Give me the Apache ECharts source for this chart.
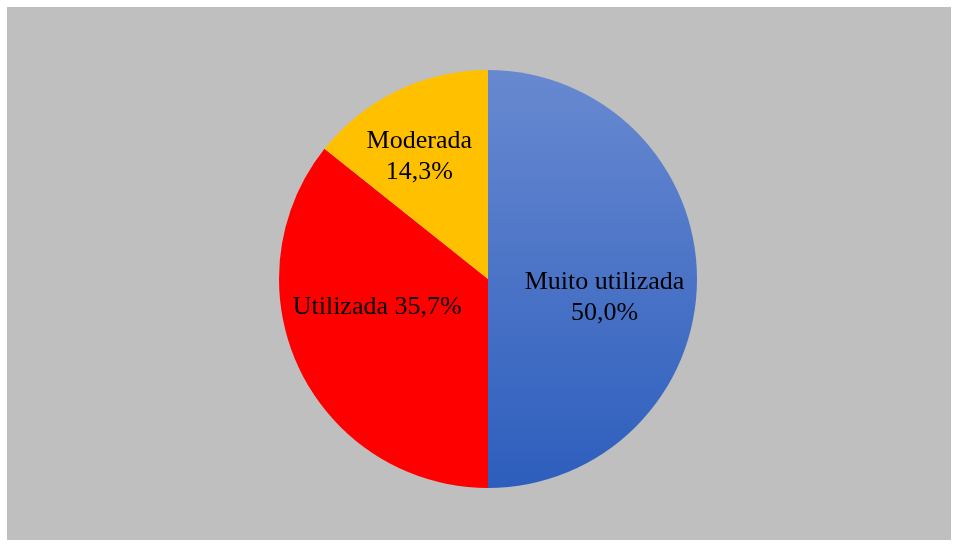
<!DOCTYPE html>
<html>
<head>
<meta charset="utf-8">
<script src="https://cdn.jsdelivr.net/npm/echarts@6/dist/echarts.min.js"></script>
<style>
    html, body {
        margin: 0;
        padding: 0;
        background: #ffffff;
    }
    #chart {
        position: absolute;
        left: 7px;
        top: 7px;
        width: 944px;
        height: 533px;
        background: #bfbfbf;
    }
</style>
</head>
<body>
<div id="chart"></div>
<script>
// categories and values (percent)
const categories = ['Muito utilizada', 'Utilizada', 'Moderada'];
const values = [50.0, 35.7, 14.3];
const labelTexts = ['Muito utilizada\n50,0%', 'Utilizada 35,7%', 'Moderada\n14,3%'];

const chart = echarts.init(document.getElementById('chart'));

// colours per slice
const colors = [
    new echarts.graphic.LinearGradient(0, 0, 0, 1, [
        { offset: 0, color: '#6889d0' },
        { offset: 1, color: '#2d5ebd' }
    ]),
    '#ff0000',
    '#ffc000'
];

// label nudges to match the original placement
const offsets = [[9, 19], [-14, -19], [-22, -25]];

const data = categories.map((name, i) => ({
    name: name,
    value: values[i],
    itemStyle: { color: colors[i] },
    label: { offset: offsets[i] }
}));

chart.setOption({
    backgroundColor: 'transparent',
    animation: false,
    series: [{
        type: 'pie',
        center: [481, 272],
        radius: [0, 209],
        startAngle: 90,
        clockwise: true,
        data: data,
        label: {
            show: true,
            position: 'inside',
            formatter: p => labelTexts[p.dataIndex],
            fontFamily: '"Liberation Serif", "Times New Roman", serif',
            fontSize: 26,
            lineHeight: 31,
            color: '#000000'
        },
        labelLine: { show: false },
        emphasis: { disabled: true }
    }]
});
</script>
</body>
</html>
